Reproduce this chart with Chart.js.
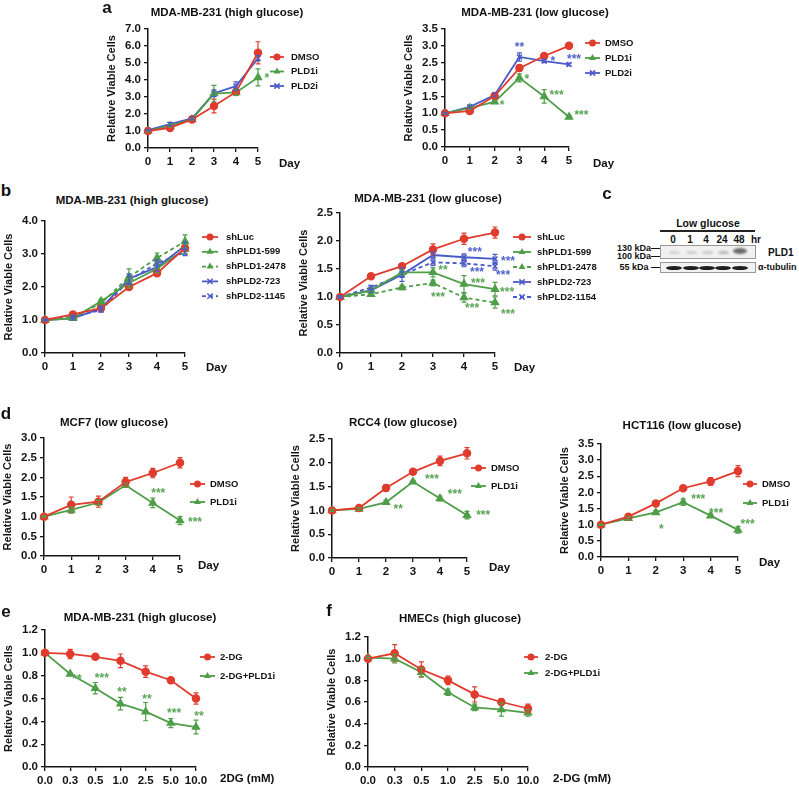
<!DOCTYPE html>
<html>
<head>
<meta charset="utf-8">
<script src="https://cdn.jsdelivr.net/npm/chart.js@4.4.1/dist/chart.umd.min.js"></script>
<style>
  body { margin: 0; background: #fff; width: 799px; height: 788px; position: relative; overflow: hidden;
         font-family: 'Liberation Sans', Arial, sans-serif; font-weight: bold; color: #111; }
  canvas { position: absolute; }
  .t { position: absolute; white-space: nowrap; transform: translate(-50%, -50%); font-size: 11.5px; }
  .l { position: absolute; white-space: nowrap; transform: translateY(-50%); font-size: 11.5px; }
  .r { position: absolute; white-space: nowrap; transform: translate(-100%, -50%); font-size: 9px; }
  .p { position: absolute; transform: translate(-50%, -50%); font-size: 17px; }
  .box { position: absolute; border: 1px solid #999; background: #f1f1f1; overflow: hidden; }
  .band { position: absolute; border-radius: 50%; }
</style>
</head>
<body>
<script>
// ---- data ----
const days = ['0', '1', '2', '3', '4', '5'];
const doses = ['0.0', '0.3', '0.5', '1.0', '2.5', '5.0', '10.0'];

// a: MDA-MB-231 high glucose
const aHiDMSO = [1.0, 1.18, 1.68, 2.47, 3.3, 5.6];
const aHiDMSOErr = [0.05, 0.08, 0.06, 0.4, 0.12, 0.65];
const aHiPLD1 = [1.0, 1.3, 1.68, 3.2, 3.27, 4.15];
const aHiPLD1Err = [0.05, 0.08, 0.06, 0.48, 0.18, 0.5];
const aHiPLD2 = [1.05, 1.4, 1.74, 3.22, 3.64, 5.28];
const aHiPLD2Err = [0.05, 0.1, 0.08, 0.2, 0.25, 0.15];
const aHiStarsPLD1 = [[5.4, 4.24, '*']];

// a: MDA-MB-231 low glucose
const aLoDMSO = [1.0, 1.07, 1.51, 2.34, 2.7, 3.0];
const aLoDMSOErr = [0.03, 0.05, 0.05, 0.1, 0.07, 0.05];
const aLoPLD1 = [1.0, 1.16, 1.34, 2.05, 1.5, 0.89];
const aLoPLD1Err = [0.03, 0.04, 0.05, 0.12, 0.2, 0.05];
const aLoPLD2 = [1.0, 1.19, 1.54, 2.67, 2.55, 2.45];
const aLoPLD2Err = [0.03, 0.04, 0.05, 0.12, 0.05, 0.04];
const aLoStarsPLD1 = [[2.3, 1.3, '*'], [3.3, 2.08, '*'], [4.5, 1.6, '***'], [5.5, 1.0, '***']];
const aLoStarsPLD2 = [[3.0, 3.03, '**'], [4.35, 2.61, '*'], [5.2, 2.67, '***']];

// b: shRNA high glucose
const bHiLuc = [1.0, 1.17, 1.36, 2.0, 2.42, 3.18];
const bHiLucErr = [0.03, 0.05, 0.06, 0.08, 0.08, 0.1];
const bHi599 = [1.0, 1.05, 1.57, 2.12, 2.55, 3.15];
const bHi599Err = [0.03, 0.05, 0.06, 0.15, 0.12, 0.15];
const bHi2478 = [1.0, 1.1, 1.5, 2.3, 2.88, 3.38];
const bHi2478Err = [0.03, 0.05, 0.08, 0.25, 0.15, 0.2];
const bHi723 = [1.0, 1.05, 1.35, 2.25, 2.6, 3.25];
const bHi723Err = [0.03, 0.05, 0.06, 0.15, 0.12, 0.12];
const bHi1145 = [1.0, 1.1, 1.3, 2.2, 2.72, 3.05];
const bHi1145Err = [0.03, 0.05, 0.06, 0.12, 0.1, 0.1];

// b: shRNA low glucose
const bLoLuc = [1.0, 1.37, 1.55, 1.85, 2.04, 2.15];
const bLoLucErr = [0.02, 0.03, 0.04, 0.1, 0.1, 0.1];
const bLo599 = [1.0, 1.12, 1.44, 1.44, 1.23, 1.14];
const bLo599Err = [0.02, 0.04, 0.05, 0.08, 0.15, 0.12];
const bLo2478 = [1.0, 1.05, 1.17, 1.25, 0.99, 0.9];
const bLo2478Err = [0.02, 0.03, 0.04, 0.05, 0.08, 0.1];
const bLo723 = [1.0, 1.12, 1.4, 1.75, 1.71, 1.68];
const bLo723Err = [0.02, 0.04, 0.05, 0.05, 0.06, 0.08];
const bLo1154 = [1.0, 1.17, 1.4, 1.62, 1.6, 1.55];
const bLo1154Err = [0.02, 0.04, 0.12, 0.06, 0.06, 0.07];
const bLoStarsGreen = [[3.32, 1.52, '**'], [3.16, 1.04, '***'], [4.45, 1.28, '***'], [4.26, 0.84, '***'], [5.39, 1.13, '***'], [5.42, 0.73, '***']];
const bLoStarsBlue = [[4.35, 1.84, '***'], [4.42, 1.48, '***'], [5.42, 1.68, '***'], [5.26, 1.43, '***']];

// d: MCF7, RCC4, HCT116 low glucose
const mcfDMSO = [1.0, 1.3, 1.38, 1.88, 2.11, 2.37];
const mcfDMSOErr = [0.02, 0.2, 0.14, 0.12, 0.12, 0.13];
const mcfPLD1 = [1.0, 1.17, 1.36, 1.8, 1.35, 0.9];
const mcfPLD1Err = [0.02, 0.08, 0.06, 0.05, 0.12, 0.1];
const mcfStars = [[4.2, 1.65, '***'], [5.55, 0.92, '***']];

const rccDMSO = [1.0, 1.05, 1.47, 1.81, 2.04, 2.2];
const rccDMSOErr = [0.02, 0.04, 0.07, 0.03, 0.1, 0.12];
const rccPLD1 = [1.0, 1.03, 1.17, 1.6, 1.25, 0.9];
const rccPLD1Err = [0.02, 0.03, 0.04, 0.03, 0.05, 0.08];
const rccStars = [[2.45, 1.08, '**'], [3.7, 1.69, '***'], [4.55, 1.39, '***'], [5.6, 0.95, '***']];

const hctDMSO = [1.0, 1.25, 1.66, 2.13, 2.34, 2.66];
const hctDMSOErr = [0.02, 0.04, 0.05, 0.06, 0.12, 0.17];
const hctPLD1 = [1.0, 1.2, 1.38, 1.7, 1.28, 0.84];
const hctPLD1Err = [0.02, 0.04, 0.06, 0.1, 0.05, 0.1];
const hctStars = [[2.2, 0.93, '*'], [3.55, 1.86, '***'], [4.2, 1.42, '***'], [5.35, 1.08, '***']];

// e: MDA-MB-231 2-DG
const eDG = [1.0, 0.99, 0.965, 0.93, 0.835, 0.76, 0.6];
const eDGErr = [0, 0.04, 0.015, 0.06, 0.05, 0.025, 0.05];
const eDGPLD1 = [1.0, 0.815, 0.69, 0.555, 0.485, 0.385, 0.35];
const eDGPLD1Err = [0, 0.01, 0.05, 0.055, 0.08, 0.04, 0.06];
const eStars = [[1.27, 0.79, '**'], [2.26, 0.8, '***'], [3.06, 0.67, '**'], [4.05, 0.61, '**'], [5.13, 0.49, '***'], [6.12, 0.46, '**']];

// f: HMECs 2-DG
const fDG = [1.0, 1.05, 0.9, 0.8, 0.67, 0.6, 0.54];
const fDGErr = [0.01, 0.08, 0.07, 0.04, 0.07, 0.03, 0.04];
const fDGPLD1 = [1.01, 1.0, 0.875, 0.69, 0.55, 0.53, 0.5];
const fDGPLD1Err = [0.01, 0.04, 0.04, 0.03, 0.03, 0.06, 0.03];

// ---- styles ----
const RED = '#e03c2e', GREEN = '#4f9e49', BLUE = '#4a5bc8';
const GREEN_STAR = '#5aa657', BLUE_STAR = '#5264cc';
const FONT = "'Liberation Sans', Arial, sans-serif";
const INK = '#151515';

function marker(ctx, style, x, y, r, color) {
  ctx.fillStyle = color; ctx.strokeStyle = color; ctx.lineWidth = 1.5;
  ctx.beginPath();
  if (style === 'triangle') {
    ctx.moveTo(x, y - r); ctx.lineTo(x + r * 0.87, y + r * 0.5); ctx.lineTo(x - r * 0.87, y + r * 0.5); ctx.closePath(); ctx.fill();
  } else if (style === 'crossRot') {
    const d = r * 0.75;
    ctx.moveTo(x - d, y - d); ctx.lineTo(x + d, y + d); ctx.moveTo(x + d, y - d); ctx.lineTo(x - d, y + d); ctx.stroke();
  } else {
    ctx.arc(x, y, r, 0, Math.PI * 2); ctx.fill();
  }
}

const errPlugin = {
  id: 'errBars',
  afterDatasetsDraw(chart) {
    const ctx = chart.ctx, ys = chart.scales.y;
    ctx.save();
    chart.data.datasets.forEach((ds, i) => {
      if (!ds.err) return;
      const meta = chart.getDatasetMeta(i);
      ctx.strokeStyle = ds.borderColor; ctx.lineWidth = 1.2;
      meta.data.forEach((pt, j) => {
        const e = ds.err[j];
        if (!e) return;
        const y1 = ys.getPixelForValue(ds.data[j] + e), y2 = ys.getPixelForValue(ds.data[j] - e);
        ctx.beginPath();
        ctx.moveTo(pt.x, y1); ctx.lineTo(pt.x, y2);
        ctx.moveTo(pt.x - 2.5, y1); ctx.lineTo(pt.x + 2.5, y1);
        ctx.moveTo(pt.x - 2.5, y2); ctx.lineTo(pt.x + 2.5, y2);
        ctx.stroke();
      });
    });
    ctx.restore();
  }
};

const starPlugin = {
  id: 'stars',
  afterDatasetsDraw(chart, args, opts) {
    const ctx = chart.ctx, xs = chart.scales.x, ys = chart.scales.y;
    ctx.save();
    ctx.font = 'bold 12px ' + FONT; ctx.textAlign = 'center'; ctx.textBaseline = 'middle';
    (opts.sets || []).forEach(s => {
      ctx.fillStyle = s.color;
      s.items.forEach(([x, y, t]) => ctx.fillText(t, xs.getPixelForValue(x), ys.getPixelForValue(y) + 2.6));
    });
    ctx.restore();
  }
};

const legendPlugin = {
  id: 'sideLegend',
  afterDraw(chart, args, o) {
    const ctx = chart.ctx, ca = chart.chartArea;
    ctx.save();
    chart.data.datasets.forEach((ds, i) => {
      const x = ca.right + o.dx, y = ca.top + o.dy + i * o.gap;
      ctx.strokeStyle = ds.borderColor; ctx.lineWidth = 1.8;
      ctx.setLineDash(ds.borderDash || []);
      ctx.beginPath(); ctx.moveTo(x, y); ctx.lineTo(x + o.len, y); ctx.stroke();
      ctx.setLineDash([]);
      marker(ctx, ds.pointStyle, x + o.len / 2, y, ds.pointRadius, ds.borderColor);
      ctx.font = 'bold 9.5px ' + FONT; ctx.fillStyle = INK; ctx.textBaseline = 'middle'; ctx.textAlign = 'left';
      ctx.fillText(ds.label, x + o.len + o.tx, y);
    });
    ctx.restore();
  }
};

function series(label, data, err, color, marker, dash) {
  return { label, data, err, color, marker, dash };
}

function panel(o) {
  const W = 47, XH = 22, PT = 14;
  const left = o.axisX - W, top = o.ytop - PT;
  const width = o.right - left, height = o.y0 - top + XH + 4;
  const cv = document.createElement('canvas');
  cv.width = width; cv.height = height;
  cv.style.left = left + 'px'; cv.style.top = top + 'px';
  cv.style.width = width + 'px'; cv.style.height = height + 'px';
  document.body.appendChild(cv);
  const axisGrid = { display: true, drawOnChartArea: false, drawTicks: true, tickLength: 4, color: INK, lineWidth: 1.3 };
  const axisBorder = { display: true, color: INK, width: 1.5 };
  const tickFont = { family: FONT, size: 11.5, weight: 'bold' };
  new Chart(cv, {
    type: 'line',
    data: {
      labels: o.labels,
      datasets: o.series.map(s => ({
        label: s.label, data: s.data, err: s.err,
        borderColor: s.color, backgroundColor: s.color,
        pointBackgroundColor: s.color, pointBorderColor: s.color,
        pointStyle: s.marker, pointRadius: s.marker === 'triangle' ? 4 : 3.5, pointBorderWidth: 1.5,
        borderWidth: 1.8, borderDash: s.dash || [], fill: false, tension: 0
      }))
    },
    options: {
      responsive: false, animation: false, devicePixelRatio: 1,
      layout: { padding: { left: 0, top: PT, right: width - W - (o.xmax - o.axisX), bottom: 4 } },
      plugins: {
        legend: { display: false }, tooltip: { enabled: false },
        sideLegend: o.legend, stars: { sets: o.stars || [] }
      },
      scales: {
        x: {
          type: 'category', offset: false, grid: axisGrid, border: axisBorder,
          ticks: { font: tickFont, color: INK, autoSkip: false, maxRotation: 0, padding: 3 },
          afterFit: s => { s.height = XH; }
        },
        y: {
          min: 0, max: o.ymax, grid: axisGrid, border: axisBorder,
          ticks: { stepSize: o.step, autoSkip: false, font: tickFont, color: INK, padding: 3, callback: v => v.toFixed(1) },
          title: { display: true, text: 'Relative Viable Cells', color: INK, font: { family: FONT, size: 11, weight: 'bold' } },
          afterFit: s => { s.width = W; }
        }
      }
    },
    plugins: [errPlugin, starPlugin, legendPlugin]
  });
}

function text(cls, str, x, y, size) {
  const d = document.createElement('div');
  d.className = cls; d.textContent = str;
  d.style.left = x + 'px'; d.style.top = y + 'px';
  if (size) d.style.fontSize = size + 'px';
  document.body.appendChild(d);
  return d;
}

// ---- panels ----
panel({ axisX: 148, xmax: 258, ytop: 29, y0: 148, right: 345, ymax: 7, step: 1, labels: days,
  series: [series('DMSO', aHiDMSO, aHiDMSOErr, RED, 'circle'), series('PLD1i', aHiPLD1, aHiPLD1Err, GREEN, 'triangle'), series('PLD2i', aHiPLD2, aHiPLD2Err, BLUE, 'crossRot')],
  legend: { dx: 12, len: 14, tx: 7, dy: 28, gap: 14.5 },
  stars: [{ color: GREEN_STAR, items: aHiStarsPLD1 }] });

panel({ axisX: 445, xmax: 569, ytop: 29, y0: 147, right: 665, ymax: 3.5, step: 0.5, labels: days,
  series: [series('DMSO', aLoDMSO, aLoDMSOErr, RED, 'circle'), series('PLD1i', aLoPLD1, aLoPLD1Err, GREEN, 'triangle'), series('PLD2i', aLoPLD2, aLoPLD2Err, BLUE, 'crossRot')],
  legend: { dx: 16, len: 15, tx: 5, dy: 14, gap: 15 },
  stars: [{ color: GREEN_STAR, items: aLoStarsPLD1 }, { color: BLUE_STAR, items: aLoStarsPLD2 }] });

panel({ axisX: 45, xmax: 185, ytop: 221, y0: 353, right: 300, ymax: 4, step: 1, labels: days,
  series: [series('shLuc', bHiLuc, bHiLucErr, RED, 'circle'), series('shPLD1-599', bHi599, bHi599Err, GREEN, 'triangle'),
    series('shPLD1-2478', bHi2478, bHi2478Err, GREEN, 'triangle', [4, 3]), series('shPLD2-723', bHi723, bHi723Err, BLUE, 'crossRot'),
    series('shPLD2-1145', bHi1145, bHi1145Err, BLUE, 'crossRot', [4, 3])],
  legend: { dx: 17, len: 16, tx: 8, dy: 16, gap: 14.8 } });

panel({ axisX: 340, xmax: 495, ytop: 213, y0: 353, right: 600, ymax: 2.5, step: 0.5, labels: days,
  series: [series('shLuc', bLoLuc, bLoLucErr, RED, 'circle'), series('shPLD1-599', bLo599, bLo599Err, GREEN, 'triangle'),
    series('shPLD1-2478', bLo2478, bLo2478Err, GREEN, 'triangle', [4, 3]), series('shPLD2-723', bLo723, bLo723Err, BLUE, 'crossRot'),
    series('shPLD2-1154', bLo1154, bLo1154Err, BLUE, 'crossRot', [4, 3])],
  legend: { dx: 18, len: 18, tx: 6, dy: 24, gap: 15 },
  stars: [{ color: GREEN_STAR, items: bLoStarsGreen }, { color: BLUE_STAR, items: bLoStarsBlue }] });

panel({ axisX: 44, xmax: 180, ytop: 438, y0: 556, right: 255, ymax: 3, step: 0.5, labels: days,
  series: [series('DMSO', mcfDMSO, mcfDMSOErr, RED, 'circle'), series('PLD1i', mcfPLD1, mcfPLD1Err, GREEN, 'triangle')],
  legend: { dx: 10, len: 15, tx: 5, dy: 46, gap: 18 },
  stars: [{ color: GREEN_STAR, items: mcfStars }] });

panel({ axisX: 332, xmax: 467, ytop: 439, y0: 558, right: 535, ymax: 2.5, step: 0.5, labels: days,
  series: [series('DMSO', rccDMSO, rccDMSOErr, RED, 'circle'), series('PLD1i', rccPLD1, rccPLD1Err, GREEN, 'triangle')],
  legend: { dx: 4, len: 15, tx: 5, dy: 29, gap: 18 },
  stars: [{ color: GREEN_STAR, items: rccStars }] });

panel({ axisX: 601, xmax: 738, ytop: 444, y0: 557, right: 799, ymax: 3.5, step: 0.5, labels: days,
  series: [series('DMSO', hctDMSO, hctDMSOErr, RED, 'circle'), series('PLD1i', hctPLD1, hctPLD1Err, GREEN, 'triangle')],
  legend: { dx: 5, len: 14, tx: 5, dy: 40, gap: 19 },
  stars: [{ color: GREEN_STAR, items: hctStars }] });

panel({ axisX: 45, xmax: 196, ytop: 630, y0: 767, right: 330, ymax: 1.2, step: 0.2, labels: doses,
  series: [series('2-DG', eDG, eDGErr, RED, 'circle'), series('2-DG+PLD1i', eDGPLD1, eDGPLD1Err, GREEN, 'triangle')],
  legend: { dx: 4, len: 15, tx: 5, dy: 27, gap: 19 },
  stars: [{ color: GREEN_STAR, items: eStars }] });

panel({ axisX: 368, xmax: 528, ytop: 637, y0: 767, right: 640, ymax: 1.2, step: 0.2, labels: doses,
  series: [series('2-DG', fDG, fDGErr, RED, 'circle'), series('2-DG+PLD1i', fDGPLD1, fDGPLD1Err, GREEN, 'triangle')],
  legend: { dx: -4, len: 14, tx: 7, dy: 20, gap: 16 } });

// ---- titles, axis names, panel letters ----
text('t', 'MDA-MB-231 (high glucose)', 227, 12);
text('t', 'MDA-MB-231 (low glucose)', 535, 12);
text('t', 'MDA-MB-231 (high glucose)', 132, 200);
text('t', 'MDA-MB-231 (low glucose)', 428, 198);
text('t', 'MCF7 (low glucose)', 114, 422);
text('t', 'RCC4 (low glucose)', 403, 422);
text('t', 'HCT116 (low glucose)', 682, 425);
text('t', 'MDA-MB-231 (high glucose)', 140, 617);
text('t', 'HMECs (high glucose)', 460, 618);

text('l', 'Day', 279, 163);
text('l', 'Day', 593, 163);
text('l', 'Day', 206, 367);
text('l', 'Day', 514, 367);
text('l', 'Day', 198, 565);
text('l', 'Day', 489, 567);
text('l', 'Day', 759, 562);
text('l', '2DG (mM)', 220, 778);
text('l', '2-DG (mM)', 553, 778);

text('p', 'a', 107, 8);
text('p', 'b', 6, 191);
text('p', 'c', 607, 194);
text('p', 'd', 6, 414);
text('p', 'e', 6, 612);
text('p', 'f', 329, 611);

// ---- panel c: western blot ----
const blotLanes = ['0', '1', '4', '24', '48'];
const blotLaneX = [673, 690, 706, 722, 739];
text('t', 'Low glucose', 708, 223, 10.5);
const rule = document.createElement('div');
rule.style.cssText = 'position:absolute;left:660px;top:230px;width:95px;height:1.5px;background:#222';
document.body.appendChild(rule);
blotLanes.forEach((s, i) => text('t', s, blotLaneX[i], 239, 10));
text('t', 'hr', 756, 239, 10);
text('r', '130 kDa\u2014', 660, 248);
text('r', '100 kDa\u2014', 660, 256);
text('r', '55 kDa \u2014', 660, 267);
text('l', 'PLD1', 768, 252, 10);
text('l', '\u03b1-tubulin', 758, 267, 9);

function blotBox(top, h) {
  const b = document.createElement('div');
  b.className = 'box';
  b.style.left = '660px'; b.style.top = top + 'px'; b.style.width = '94px'; b.style.height = h + 'px';
  document.body.appendChild(b);
  return b;
}
function band(box, cx, cy, w, h, color, blur) {
  const d = document.createElement('div');
  d.className = 'band';
  d.style.cssText += `left:${cx - w / 2}px;top:${cy - h / 2}px;width:${w}px;height:${h}px;background:${color};filter:blur(${blur}px)`;
  box.appendChild(d);
}
const pldBox = blotBox(245, 12);
const pldShade = ['#cfcfcf', '#cbcbcb', '#c8c8c8', '#b5b5b5', '#6a6a6a'];
blotLaneX.forEach((x, i) => band(pldBox, x - 660, i === 4 ? 5 : 6, i === 4 ? 14 : 11, i === 4 ? 6 : 3, pldShade[i], 0.8));
const tubBox = blotBox(262, 9);
blotLaneX.forEach(x => band(tubBox, x - 660, 4.5, 16, 4, '#1e1e1e', 0.4));
</script>
</body>
</html>
